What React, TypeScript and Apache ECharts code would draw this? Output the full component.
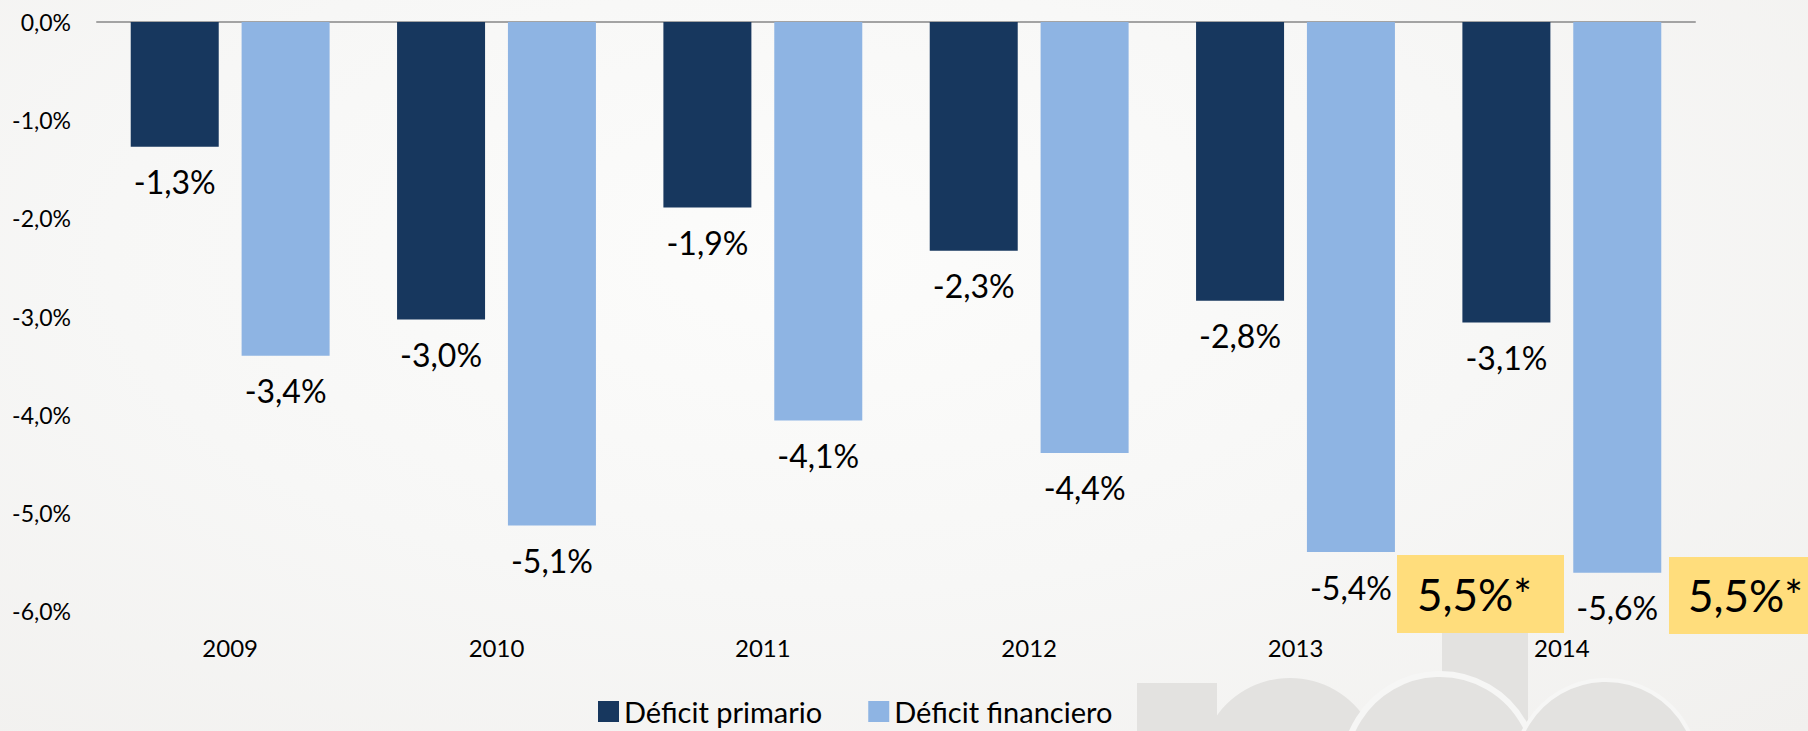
import React, { useEffect, useRef } from "react";
import * as echarts from "echarts";

const years = ["2009", "2010", "2011", "2012", "2013", "2014"];
const deficitPrimario = [-1.27, -3.03, -1.89, -2.33, -2.84, -3.06];
const deficitFinanciero = [-3.4, -5.13, -4.06, -4.39, -5.4, -5.61];
const seriesNames = ["Déficit primario", "Déficit financiero"];
const yMin = -6;
const yMax = 0;
const yInterval = 1;
const annotationTexts = ["5,5%*", "5,5%*"];

const FONT = "Lato";
const fmt = (v: number) => v.toFixed(1).replace(".", ",") + "%";

export default function App() {
  const ref = useRef<HTMLDivElement>(null);
  useEffect(() => {
    if (!ref.current) return;
    const chart = echarts.init(ref.current, undefined, { renderer: "svg" });
    const wm = "#E3E2E0";
    const bg = "#F6F6F5";
    chart.setOption({
      animation: false,
      backgroundColor: "transparent",
      textStyle: { fontFamily: FONT },
      grid: { left: 97, right: 113, top: 22, bottom: 120, containLabel: false },
      legend: {
        left: 593,
        top: 692,
        itemWidth: 21,
        itemHeight: 21,
        itemGap: 46,
        icon: "rect",
        textStyle: { fontFamily: FONT, fontSize: 29, color: "#000" },
        data: seriesNames,
      },
      xAxis: [
        {
          type: "category",
          data: years,
          position: "bottom",
          axisLine: { show: false, onZero: false },
          axisTick: { show: false },
          axisLabel: { fontFamily: FONT, fontSize: 24, color: "#000", margin: 24 },
        },
        {
          type: "category",
          data: years,
          position: "top",
          axisLine: { show: true, onZero: false, lineStyle: { color: "#A3A3A3", width: 2 } },
          axisTick: { show: false },
          axisLabel: { show: false },
        },
      ],
      yAxis: {
        type: "value",
        min: yMin,
        max: yMax,
        interval: yInterval,
        axisLine: { show: false },
        axisTick: { show: false },
        splitLine: { show: false },
        axisLabel: {
          fontFamily: FONT,
          fontSize: 23,
          color: "#000",
          margin: 26,
          formatter: (v: number) => fmt(v),
        },
      },
      series: [
        {
          name: seriesNames[0],
          type: "bar",
          data: deficitPrimario,
          barWidth: 88,
          barGap: "26%",
          itemStyle: { color: "#17375E" },
          label: {
            show: true,
            position: "bottom",
            distance: 19,
            fontFamily: FONT,
            fontSize: 32,
            color: "#000",
            formatter: (p: any) => fmt(p.value),
          },
          z: 3,
        },
        {
          name: seriesNames[1],
          type: "bar",
          data: deficitFinanciero,
          barWidth: 88,
          barGap: "26%",
          itemStyle: { color: "#8EB4E3" },
          label: {
            show: true,
            position: "bottom",
            distance: 19,
            fontFamily: FONT,
            fontSize: 32,
            color: "#000",
            formatter: (p: any) => fmt(p.value),
          },
          z: 3,
        },
      ],
      graphic: [
        // watermark logo (faint)
        { type: "rect", z: -10, silent: true, shape: { x: 1137, y: 683, width: 80, height: 60 }, style: { fill: wm } },
        { type: "circle", z: -10, silent: true, shape: { cx: 1290, cy: 768, r: 90 }, style: { fill: wm } },
        { type: "rect", z: -9, silent: true, shape: { x: 1442, y: 610, width: 86, height: 130 }, style: { fill: wm } },
        { type: "circle", z: -8, silent: true, shape: { cx: 1440, cy: 770, r: 96 }, style: { fill: wm, stroke: bg, lineWidth: 6 } },
        { type: "circle", z: -8, silent: true, shape: { cx: 1606, cy: 772, r: 92 }, style: { fill: wm, stroke: bg, lineWidth: 4 } },
        // yellow annotation boxes
        { type: "rect", z: 100, shape: { x: 1397, y: 555, width: 167, height: 78 }, style: { fill: "#FFDD7C" } },
        {
          type: "text",
          z: 101,
          x: 1417,
          y: 594,
          style: { text: annotationTexts[0], fontFamily: FONT, fontSize: 44, fill: "#000", align: "left", verticalAlign: "middle" },
        },
        { type: "rect", z: 100, shape: { x: 1669, y: 557, width: 167, height: 77 }, style: { fill: "#FFDD7C" } },
        {
          type: "text",
          z: 101,
          x: 1688,
          y: 595,
          style: { text: annotationTexts[1], fontFamily: FONT, fontSize: 44, fill: "#000", align: "left", verticalAlign: "middle" },
        },
      ],
    });
    return () => chart.dispose();
  }, []);
  return (
    <div
      style={{
        position: "absolute",
        left: 0,
        top: 0,
        width: 1808,
        height: 731,
        overflow: "hidden",
        background: "radial-gradient(ellipse at 45% 35%, #FCFCFB 0%, #F7F7F6 50%, #F1F0EE 100%)",
      }}
    >
      <div ref={ref} style={{ width: 1808, height: 731 }} />
    </div>
  );
}
